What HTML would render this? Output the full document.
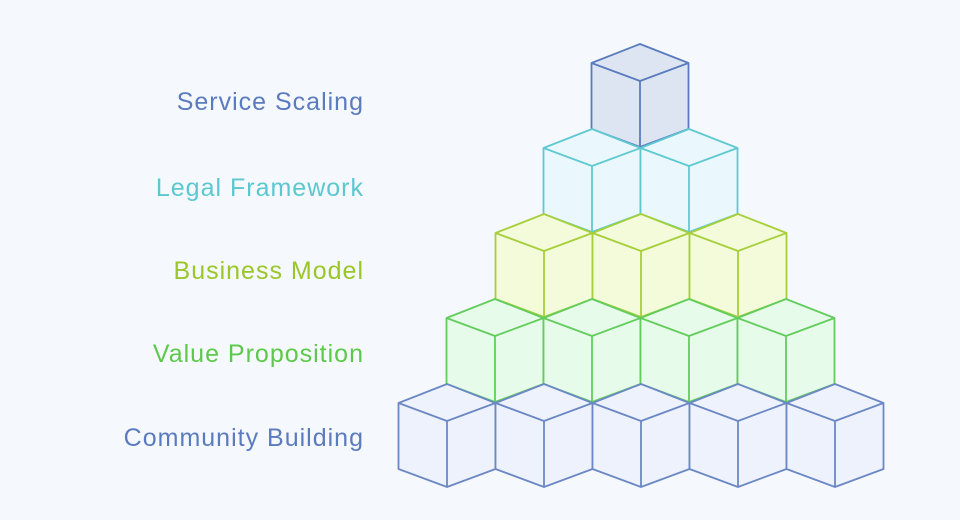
<!DOCTYPE html>
<html><head><meta charset="utf-8"><style>
body{margin:0;background:#f5f8fd;}
svg{display:block}
text{font-family:"Liberation Sans",sans-serif;font-size:25px;letter-spacing:1px;text-anchor:end}
</style></head><body>
<svg width="960" height="520" viewBox="0 0 960 520">
<rect width="960" height="520" fill="#f5f8fd"/>
<defs>
<g id="c">
<path d="M0 0 L48.5 19 L48.5 85 L0 103 L-48.5 85 L-48.5 19 Z" stroke-width="1.8" stroke-linejoin="round"/>
<path d="M-48.5 19 L0 37 L48.5 19 M0 37 L0 103" fill="none" stroke-width="1.8" stroke-linejoin="round"/>
</g>
</defs>
<g fill="#dde5f3" stroke="#5b7bbf">
<use href="#c" x="640" y="44"/>
</g>
<g fill="#eaf8fd" stroke="#5fc9d2">
<use href="#c" x="592" y="129"/><use href="#c" x="689" y="129"/>
</g>
<g fill="#f3fbda" stroke="#a6cf3a">
<use href="#c" x="544" y="214"/><use href="#c" x="641" y="214"/><use href="#c" x="738" y="214"/>
</g>
<g fill="#e6fbe9" stroke="#62cd5c">
<use href="#c" x="495" y="299"/><use href="#c" x="592" y="299"/><use href="#c" x="689" y="299"/><use href="#c" x="786" y="299"/>
</g>
<g fill="#eef2fd" stroke="#6b88c4">
<use href="#c" x="447" y="384"/><use href="#c" x="544" y="384"/><use href="#c" x="641" y="384"/><use href="#c" x="738" y="384"/><use href="#c" x="835" y="384"/>
</g>
<text x="364" y="110" fill="#5b7bbf">Service Scaling</text>
<text x="364" y="196" fill="#5bc8d0">Legal Framework</text>
<text x="364" y="279" fill="#9ac62a">Business Model</text>
<text x="364" y="362" fill="#5cc94a">Value Proposition</text>
<text x="364" y="446" fill="#5b7bbf">Community Building</text>
</svg>
</body></html>
